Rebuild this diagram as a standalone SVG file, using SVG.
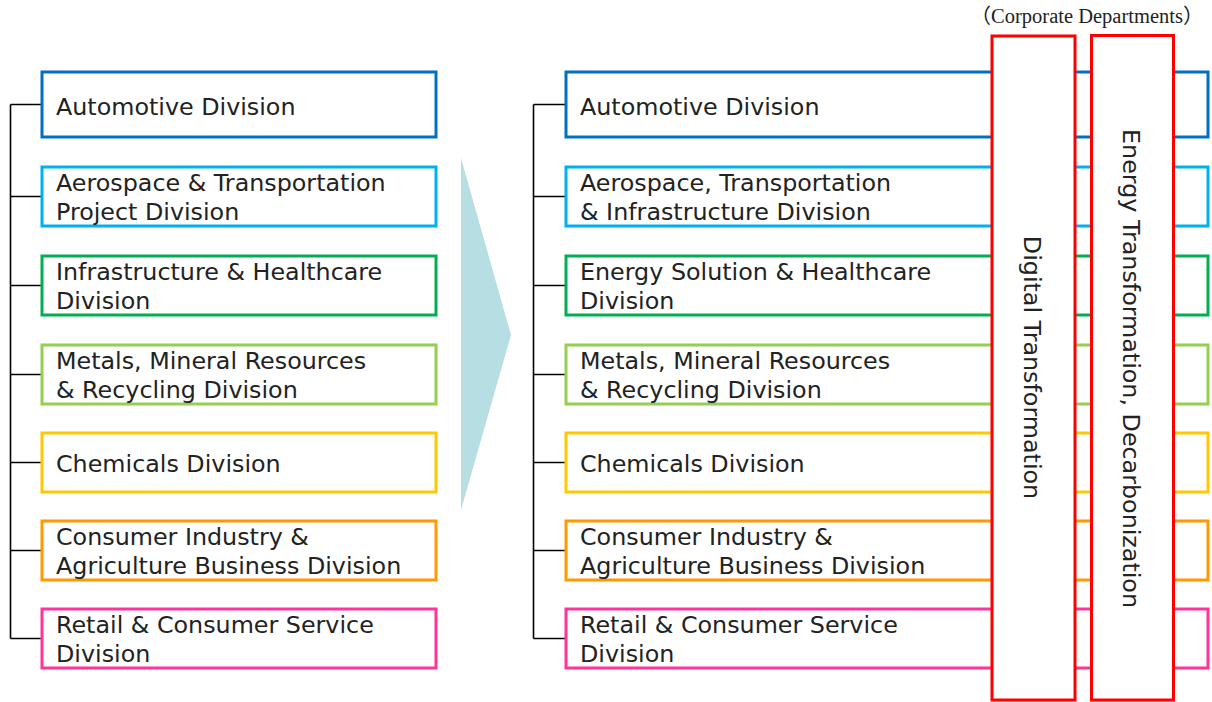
<svg xmlns="http://www.w3.org/2000/svg" width="1212" height="702" viewBox="0 0 1212 702">
<style>
.box{fill:#fff;stroke-width:3}
.lbl{font-family:"DejaVu Sans",Verdana,sans-serif;font-size:23.8px;fill:#222}
.corp{fill:#fff;stroke:#ff0000;stroke-width:3}
.tree{fill:none;stroke:#000;stroke-width:1.6}
.c1{stroke:#0070C0}.c2{stroke:#00B0F0}.c3{stroke:#00B050}.c4{stroke:#92D050}
.c5{stroke:#FFC800}.c6{stroke:#FF9900}.c7{stroke:#FF3399}
.note{font-family:"Liberation Serif","Noto Sans CJK JP",serif;font-size:20.5px;fill:#222}
</style>
<rect width="1212" height="702" fill="#fff"/>
<g id="connectors">
<path class="tree" d="M10.5,104.5V638.5M10.5,104.5H42M10.5,196.5H42M10.5,285.5H42M10.5,374.5H42M10.5,462.5H42M10.5,550.5H42M10.5,638.5H42"/>
<path class="tree" d="M533.5,104.5V638.5M533.5,104.5H566M533.5,196.5H566M533.5,285.5H566M533.5,374.5H566M533.5,462.5H566M533.5,550.5H566M533.5,638.5H566"/>
</g>
<g id="arrow"><polygon points="461,158 511,335 461,510" fill="#B7DEE3"/></g>
<g id="left-automotive"><rect class="box c1" x="42" y="72" width="394" height="65"/><text class="lbl" x="56" y="115">Automotive Division</text></g>
<g id="left-aerospace"><rect class="box c2" x="42" y="167" width="394" height="59"/><text class="lbl" x="56" y="191">Aerospace &amp; Transportation</text><text class="lbl" x="56" y="220">Project Division</text></g>
<g id="left-infrastructure"><rect class="box c3" x="42" y="256" width="394" height="59"/><text class="lbl" x="56" y="280">Infrastructure &amp; Healthcare</text><text class="lbl" x="56" y="309">Division</text></g>
<g id="left-metals"><rect class="box c4" x="42" y="345" width="394" height="59"/><text class="lbl" x="56" y="369">Metals, Mineral Resources</text><text class="lbl" x="56" y="398">&amp; Recycling Division</text></g>
<g id="left-chemicals"><rect class="box c5" x="42" y="433" width="394" height="59"/><text class="lbl" x="56" y="472">Chemicals Division</text></g>
<g id="left-consumer"><rect class="box c6" x="42" y="521" width="394" height="59"/><text class="lbl" x="56" y="545">Consumer Industry &amp;</text><text class="lbl" x="56" y="574">Agriculture Business Division</text></g>
<g id="left-retail"><rect class="box c7" x="42" y="609" width="394" height="59"/><text class="lbl" x="56" y="633">Retail &amp; Consumer Service</text><text class="lbl" x="56" y="662">Division</text></g>
<g id="right-automotive"><rect class="box c1" x="566" y="72" width="642" height="65"/><text class="lbl" x="580" y="115">Automotive Division</text></g>
<g id="right-aerospace"><rect class="box c2" x="566" y="167" width="642" height="59"/><text class="lbl" x="580" y="191">Aerospace, Transportation</text><text class="lbl" x="580" y="220">&amp; Infrastructure Division</text></g>
<g id="right-energy"><rect class="box c3" x="566" y="256" width="642" height="59"/><text class="lbl" x="580" y="280">Energy Solution &amp; Healthcare</text><text class="lbl" x="580" y="309">Division</text></g>
<g id="right-metals"><rect class="box c4" x="566" y="345" width="642" height="59"/><text class="lbl" x="580" y="369">Metals, Mineral Resources</text><text class="lbl" x="580" y="398">&amp; Recycling Division</text></g>
<g id="right-chemicals"><rect class="box c5" x="566" y="433" width="642" height="59"/><text class="lbl" x="580" y="472">Chemicals Division</text></g>
<g id="right-consumer"><rect class="box c6" x="566" y="521" width="642" height="59"/><text class="lbl" x="580" y="545">Consumer Industry &amp;</text><text class="lbl" x="580" y="574">Agriculture Business Division</text></g>
<g id="right-retail"><rect class="box c7" x="566" y="609" width="642" height="59"/><text class="lbl" x="580" y="633">Retail &amp; Consumer Service</text><text class="lbl" x="580" y="662">Division</text></g>
<g id="corporate-label"><text class="note" x="1087" y="23" text-anchor="middle">（Corporate Departments）</text></g>
<g id="digital-transformation"><rect class="corp" x="992" y="36" width="83" height="664"/><text class="lbl" text-anchor="middle" transform="translate(1024,367.5) rotate(90)">Digital Transformation</text></g>
<g id="energy-transformation"><rect class="corp" x="1091.5" y="35.5" width="82" height="664.5"/><text class="lbl" text-anchor="middle" transform="translate(1123,368.5) rotate(90)">Energy Transformation, Decarbonization</text></g>
</svg>
